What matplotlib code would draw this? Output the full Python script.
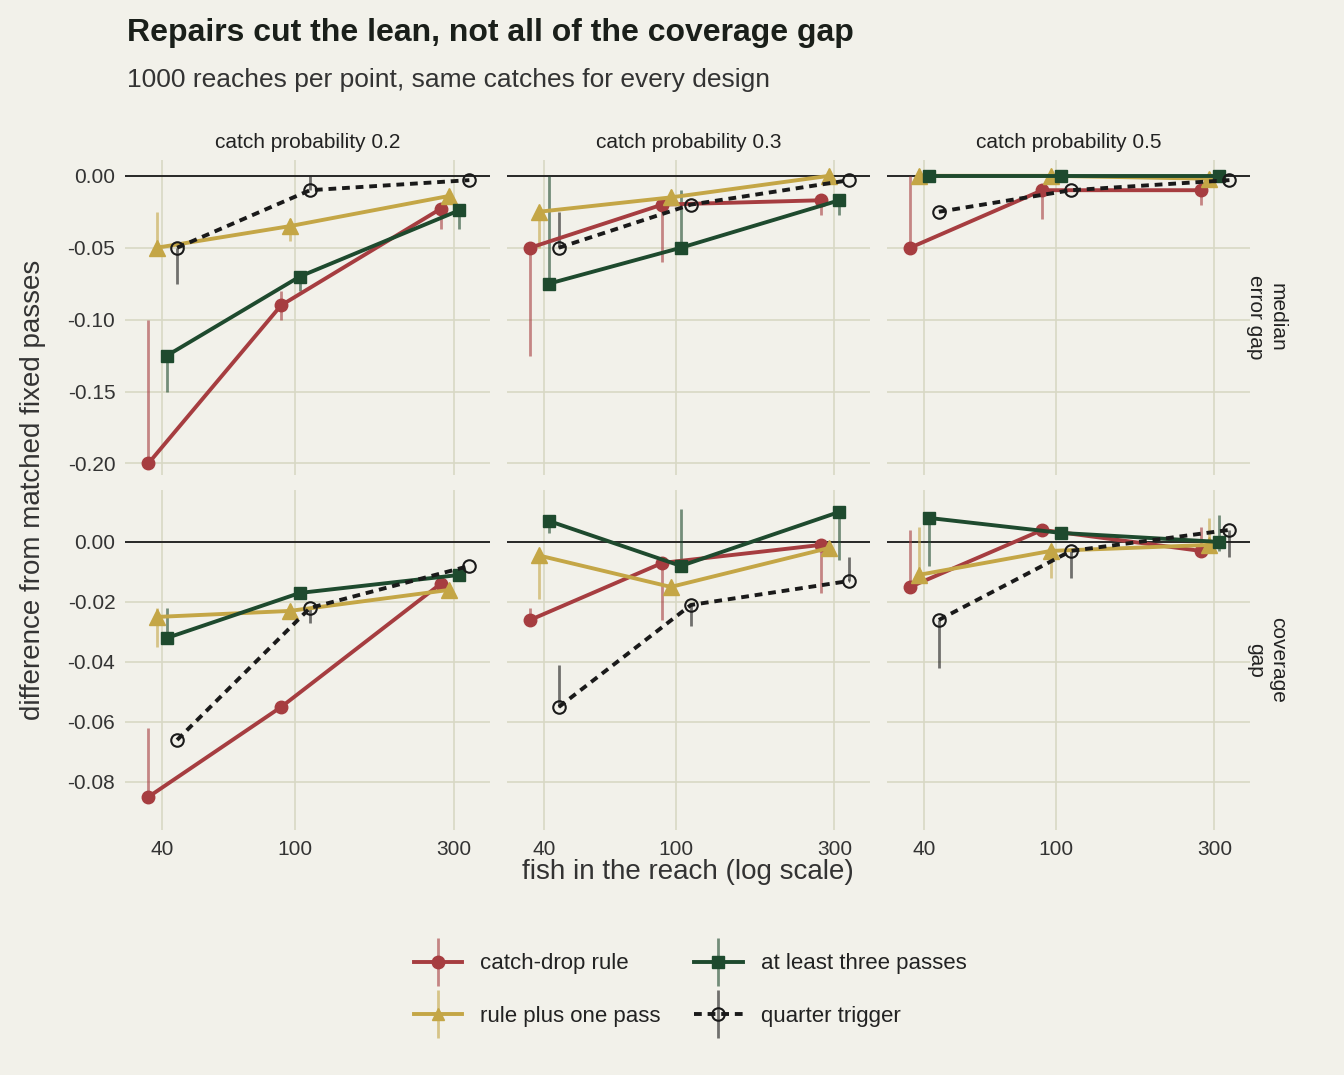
import numpy as np
import matplotlib
matplotlib.use('Agg')
import matplotlib.pyplot as plt
from matplotlib.lines import Line2D

plt.rcParams['font.family'] = ['Liberation Sans', 'DejaVu Sans']

fish = [40, 100, 300]
probs = ['catch probability 0.2', 'catch probability 0.3', 'catch probability 0.5']
rows = ['median\nerror gap', 'coverage\ngap']
designs = ['catch-drop rule', 'rule plus one pass', 'at least three passes', 'quarter trigger']

# [panel][design] -> (values, low, high)
median_gap = [
    [  # p 0.2
        ([-0.200, -0.090, -0.023], [-0.200, -0.100, -0.037], [-0.100, -0.080, -0.023]),
        ([-0.050, -0.035, -0.014], [-0.050, -0.045, -0.014], [-0.025, -0.030, -0.014]),
        ([-0.125, -0.070, -0.024], [-0.150, -0.080, -0.037], [-0.125, -0.070, -0.024]),
        ([-0.050, -0.010, -0.003], [-0.075, -0.010, -0.003], [-0.050, 0.000, -0.003]),
    ],
    [  # p 0.3
        ([-0.050, -0.020, -0.017], [-0.125, -0.060, -0.027], [-0.050, -0.020, -0.017]),
        ([-0.025, -0.015, 0.000], [-0.050, -0.020, -0.005], [-0.025, -0.010, 0.000]),
        ([-0.075, -0.050, -0.017], [-0.075, -0.050, -0.027], [0.000, -0.010, -0.017]),
        ([-0.050, -0.020, -0.003], [-0.050, -0.020, -0.003], [-0.025, -0.020, -0.003]),
    ],
    [  # p 0.5
        ([-0.050, -0.010, -0.010], [-0.050, -0.030, -0.020], [0.000, -0.010, -0.010]),
        ([0.000, 0.000, -0.002], [0.000, 0.000, -0.004], [0.005, 0.000, -0.002]),
        ([0.000, 0.000, 0.000], [0.000, 0.000, 0.000], [0.000, 0.000, 0.000]),
        ([-0.025, -0.010, -0.003], [-0.025, -0.010, -0.003], [-0.025, -0.010, -0.003]),
    ],
]
coverage_gap = [
    [  # p 0.2
        ([-0.085, -0.055, -0.014], [-0.085, -0.055, -0.014], [-0.062, -0.055, -0.014]),
        ([-0.025, -0.023, -0.016], [-0.035, -0.023, -0.016], [-0.022, -0.023, -0.016]),
        ([-0.032, -0.017, -0.011], [-0.032, -0.017, -0.011], [-0.022, -0.017, -0.011]),
        ([-0.066, -0.022, -0.008], [-0.066, -0.027, -0.008], [-0.066, -0.022, -0.008]),
    ],
    [  # p 0.3
        ([-0.026, -0.007, -0.001], [-0.026, -0.026, -0.017], [-0.022, -0.007, -0.001]),
        ([-0.0045, -0.015, -0.002], [-0.019, -0.015, -0.002], [-0.0045, -0.015, -0.002]),
        ([0.007, -0.008, 0.010], [0.003, -0.008, -0.006], [0.007, 0.011, 0.010]),
        ([-0.055, -0.021, -0.013], [-0.055, -0.028, -0.013], [-0.041, -0.021, -0.005]),
    ],
    [  # p 0.5
        ([-0.015, 0.004, -0.003], [-0.015, 0.004, -0.003], [0.004, 0.004, 0.005]),
        ([-0.011, -0.003, -0.001], [-0.011, -0.012, -0.001], [0.005, -0.003, 0.008]),
        ([0.008, 0.003, 0.000], [-0.008, 0.003, -0.003], [0.008, 0.003, 0.009]),
        ([-0.026, -0.003, 0.004], [-0.042, -0.012, -0.005], [-0.026, -0.003, 0.004]),
    ],
]

colors = ['#a63d40', '#c4a646', '#1e4a2e', '#1a1a1a']
markers = ['o', '^', 's', 'o']
dodge = [0.91, 0.965, 1.035, 1.11]
bg = '#f2f1ea'
gridc = '#d8d8c4'

fig = plt.figure(figsize=(13.44, 10.75), dpi=100, facecolor=bg)
W, H = 1344, 1075
colx = [(125, 490), (507, 870), (887, 1250)]
rowy = [(160, 475), (490, 830)]
ylims = [(-0.208, 0.011), (-0.096, 0.0173)]
yticks = [[0, -0.05, -0.10, -0.15, -0.20], [0, -0.02, -0.04, -0.06, -0.08]]

for r, data in enumerate([median_gap, coverage_gap]):
    for c in range(3):
        x0, x1 = colx[c]
        y0, y1 = rowy[r]
        ax = fig.add_axes([x0 / W, 1 - y1 / H, (x1 - x0) / W, (y1 - y0) / H])
        ax.set_facecolor(bg)
        ax.set_xscale('log')
        ax.set_xlim(31, 384)
        ax.set_ylim(*ylims[r])
        ax.set_xticks(fish)
        ax.set_yticks(yticks[r])
        ax.grid(True, color=gridc, lw=1.2)
        ax.minorticks_off()
        for s in ax.spines.values():
            s.set_visible(False)
        ax.tick_params(length=0, labelsize=15, colors='#333333', pad=7)
        if r == 0:
            ax.set_xticklabels([])
            ax.set_title(probs[c], fontsize=15, color='#222222', pad=9)
        else:
            ax.set_xticklabels([str(f) for f in fish])
        if c == 0:
            ax.set_yticklabels(['%.2f' % v for v in yticks[r]])
        else:
            ax.set_yticklabels([])
        if c == 2:
            ax.text(1.045, 0.5, rows[r], transform=ax.transAxes, rotation=-90,
                    ha='center', va='center', fontsize=15, color='#222222')
        ax.axhline(0, color='#1a1a1a', lw=1.3, zorder=2)
        for d in range(4):
            vals, lo, hi = data[c][d]
            xs = np.array(fish) * dodge[d]
            ax.vlines(xs, lo, hi, color=colors[d], alpha=0.6, lw=2, zorder=3)
            if d == 3:
                ax.plot(xs, vals, color=colors[d], lw=2.8, ls=(0, (2, 1.5)), zorder=4,
                        marker='o', ms=9, mfc='none', mec=colors[d], mew=1.5)
            else:
                ax.plot(xs, vals, color=colors[d], lw=2.8, zorder=4,
                        marker=markers[d], ms=9 if d != 1 else 11)

fig.text(127 / W, 1 - 33 / H, 'Repairs cut the lean, not all of the coverage gap',
         fontsize=23, fontweight='bold', color='#1a1f1a', va='center')
fig.text(127 / W, 1 - 80 / H, '1000 reaches per point, same catches for every design',
         fontsize=19, color='#333333', va='center')
fig.text(688 / W, 1 - 872 / H, 'fish in the reach (log scale)', fontsize=20,
         color='#333333', ha='center', va='center')
fig.text(33 / W, 1 - 490 / H, 'difference from matched fixed passes', fontsize=20,
         color='#333333', ha='center', va='center', rotation=90)

handles = []
for d in range(4):
    bar = Line2D([], [], color=colors[d], alpha=0.6, lw=0, marker='|', ms=34, mew=2)
    if d == 3:
        h = Line2D([], [], color=colors[d], lw=2.8, ls=(0, (2, 1.5)), marker='o',
                   ms=9, mfc='none', mew=1.5)
    else:
        h = Line2D([], [], color=colors[d], lw=2.8, marker=markers[d], ms=9)
    handles.append((bar, h))
fig.legend(handles, designs, ncol=2, loc='center', bbox_to_anchor=(690 / W, 1 - 990 / H),
           frameon=False, fontsize=16, handlelength=2.2, columnspacing=1.5,
           labelspacing=1.4, labelcolor='#222222')

fig.savefig('out.png', dpi=100, facecolor=bg)
